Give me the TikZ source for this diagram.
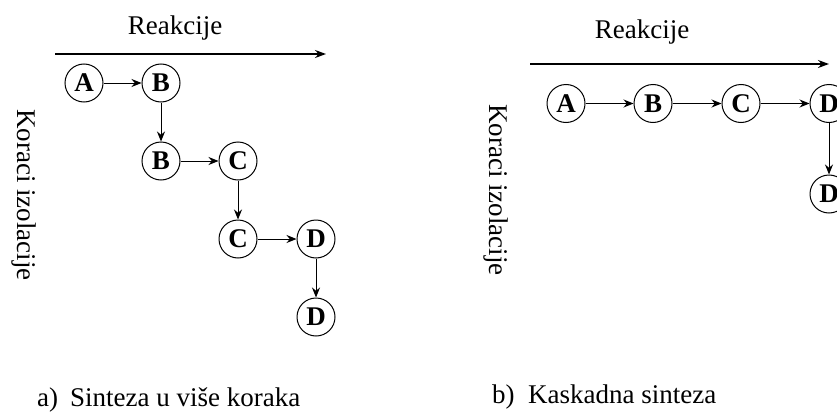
\documentclass[tikz,border=0pt]{standalone}
\usepackage{fontspec}
\setmainfont{Liberation Serif}
\usetikzlibrary{arrows.meta}
\begin{document}
\begin{tikzpicture}[x=1pt,y=-1pt,
  st/.style={circle,draw,line width=1pt,minimum size=38pt,inner sep=0pt,
    font=\fontsize{27}{27}\selectfont\bfseries},
  conn/.style={line width=1pt,-{Stealth[length=10pt,width=8pt]}},
  axis/.style={line width=1.6pt,-{Stealth[length=11pt,width=8pt]}},
  lbl/.style={font=\fontsize{27}{32}\selectfont,inner sep=0pt}]
\clip (0,0) rectangle (837,412);
% left panel
\node[lbl,anchor=base] (r1) at (175,35) {Reakcije};
\coordinate (ax1s) at (55,54);
\coordinate (ax1e) at (326,54);
\draw[axis] (ax1s) -- (ax1e);
\node[lbl,anchor=base,rotate=-90] (k1) at (17,195) {Koraci izolacije};
\node[st] (a1) at (84,83) {A};
\node[st] (b1) at (161,83) {B};
\node[st] (b2) at (161,161) {B};
\node[st] (c1) at (238,161) {C};
\node[st] (c2) at (238,239) {C};
\node[st] (d1) at (316,239) {D};
\node[st] (d2) at (316,317) {D};
\draw[conn] (a1) -- (b1);
\draw[conn] (b1) -- (b2);
\draw[conn] (b2) -- (c1);
\draw[conn] (c1) -- (c2);
\draw[conn] (c2) -- (d1);
\draw[conn] (d1) -- (d2);
\node[lbl,anchor=base west] (la) at (37,406) {a)};
\node[lbl,anchor=base west] (ta) at (70,406) {Sinteza u više koraka};
% right panel
\node[lbl,anchor=base] (r2) at (642,38) {Reakcije};
\coordinate (ax2s) at (530,64);
\coordinate (ax2e) at (829,64);
\draw[axis] (ax2s) -- (ax2e);
\node[lbl,anchor=base,rotate=-90] (k2) at (489,190) {Koraci izolacije};
\node[st] (a3) at (566,103.5) {A};
\node[st] (b3) at (653,103.5) {B};
\node[st] (c3) at (741,103.5) {C};
\node[st] (d3) at (829,103.5) {D};
\node[st] (d4) at (829,194) {D};
\draw[conn] (a3) -- (b3);
\draw[conn] (b3) -- (c3);
\draw[conn] (c3) -- (d3);
\draw[conn] (d3) -- (d4);
\node[lbl,anchor=base west] (lb) at (492,403) {b)};
\node[lbl,anchor=base west] (tb) at (528,403) {Kaskadna sinteza};
\end{tikzpicture}
\end{document}
